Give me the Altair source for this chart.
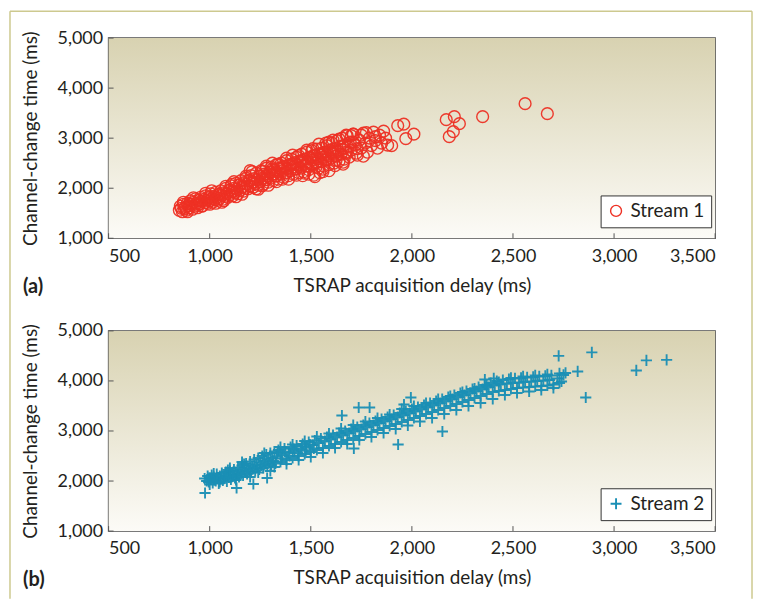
import altair as alt
import pandas as pd

# ---------------- data ----------------
s1_delay = [
    850, 855, 860, 865, 870, 875, 880, 885, 890, 895,
    900, 905, 910, 915, 920, 925, 930, 935, 940, 945,
    950, 955, 960, 965, 970, 975, 980, 985, 990, 995,
    1000, 1005, 1010, 1015, 1020, 1025, 1030, 1035, 1040, 1045,
    1050, 1055, 1060, 1065, 1070, 1075, 1080, 1085, 1090, 1095,
    1100, 1105, 1110, 1115, 1120, 1125, 1130, 1135, 1140, 1145,
    1150, 1155, 1160, 1165, 1170, 1175, 1180, 1185, 1190, 1195,
    1200, 1205, 1210, 1215, 1220, 1225, 1230, 1235, 1240, 1245,
    1250, 1255, 1260, 1265, 1270, 1275, 1280, 1285, 1290, 1295,
    1300, 1305, 1310, 1315, 1320, 1325, 1330, 1335, 1340, 1345,
    1350, 1355, 1360, 1365, 1370, 1375, 1380, 1385, 1390, 1395,
    1400, 1405, 1410, 1415, 1420, 1425, 1430, 1435, 1440, 1445,
    1450, 1455, 1460, 1465, 1470, 1475, 1480, 1485, 1490, 1495,
    1500, 1505, 1510, 1515, 1520, 1525, 1530, 1535, 1540, 1545,
    1550, 1555, 1560, 1565, 1570, 1575, 1580, 1585, 1590, 1595,
    1600, 1605, 1610, 1615, 1620, 1625, 1630, 1635, 1640, 1645,
    1650, 1655, 1660, 1665, 1670, 1675, 1680, 1685, 1690, 1695,
    1700, 1710, 1720, 1730, 1740, 1750, 1760, 1770, 1780, 1790,
    1800, 1810, 1820, 1830, 1840, 1850, 1860, 1870, 1880, 1820,
    1260, 1310, 1360, 1410, 1460, 1510, 1560, 1610, 1660, 1710,
    1280, 1330, 1380, 1430, 1480, 1530, 1580, 1630, 1680, 1730,
    1150, 1200, 1250, 1300, 1350, 1400, 1450, 1500, 1550, 1600,
    1050, 1100, 1000, 950, 900, 1120, 1170, 1220, 1270, 1320,
    1540, 1590, 1640, 1700, 1520, 1470, 1620, 1660, 1560, 1750,
    870, 890, 920, 960, 1010, 1060, 1110, 1160, 1210, 1260,
    1310, 1360, 1410, 1460, 1510, 1560, 1610, 1660, 1710, 1760,
    1030, 1080, 1130, 1180, 1230, 1280, 1330, 1380, 1430, 1480,
    1525, 1575, 1625, 1675, 1725, 1775, 1590, 1440, 1490, 1545,
    1200, 1240, 1290, 1340, 1390, 1120, 1070, 980, 940, 1000,
    1900, 1930, 1960, 1970, 2010, 2170, 2210, 2235, 2205, 2185,
    2350, 2560, 2670,
]
s1_time = [
    1560, 1640, 1600, 1530, 1680, 1590, 1620, 1560, 1700, 1650,
    1610, 1750, 1680, 1580, 1720, 1640, 1790, 1700, 1660, 1760,
    1690, 1820, 1740, 1650, 1780, 1710, 1850, 1760, 1700, 1810,
    1750, 1890, 1790, 1720, 1840, 1770, 1920, 1820, 1760, 1880,
    1800, 1950, 1860, 1780, 1910, 1840, 2000, 1890, 1820, 1960,
    1870, 2050, 1930, 1850, 2000, 1910, 2100, 1980, 1890, 2060,
    1960, 2150, 2020, 1940, 2110, 2000, 2200, 2080, 1990, 2160,
    2050, 2250, 2120, 2020, 2190, 2090, 2300, 2170, 2060, 2240,
    2130, 2350, 2200, 2080, 2280, 2170, 2400, 2240, 2120, 2320,
    2200, 2420, 2280, 2150, 2360, 2240, 2470, 2320, 2180, 2400,
    2280, 2500, 2350, 2220, 2440, 2310, 2550, 2390, 2250, 2470,
    2350, 2580, 2420, 2280, 2510, 2380, 2620, 2460, 2310, 2540,
    2400, 2680, 2500, 2330, 2580, 2440, 2720, 2530, 2370, 2620,
    2470, 2750, 2560, 2260, 2660, 2500, 2780, 2590, 2400, 2690,
    2530, 2800, 2620, 2440, 2720, 2560, 2850, 2650, 2470, 2760,
    2600, 2900, 2700, 2500, 2790, 2640, 2950, 2740, 2540, 2830,
    2680, 3000, 2780, 2580, 2870, 2720, 3050, 2820, 2620, 2920,
    2760, 3080, 2860, 2660, 2960, 2800, 3100, 2900, 2720, 3000,
    2850, 3120, 2950, 2800, 3060, 2900, 3140, 3000, 2860, 3030,
    2330, 2380, 2420, 2490, 2560, 2640, 2700, 2780, 2850, 2920,
    2170, 2250, 2300, 2390, 2450, 2520, 2580, 2650, 2700, 2790,
    2080, 2150, 2240, 2320, 2380, 2450, 2520, 2600, 2660, 2720,
    1880, 1960, 1830, 1760, 1690, 1940, 2040, 2120, 2200, 2290,
    2880, 2920, 2980, 3050, 2230, 2300, 2450, 2520, 2380, 3060,
    1720, 1530, 1810, 1640, 1950, 1720, 2080, 1880, 2330, 2050,
    2500, 2180, 2660, 2250, 2790, 2330, 2960, 2480, 3080, 2640,
    1700, 2040, 1830, 2240, 1990, 2440, 2130, 2600, 2260, 2760,
    2420, 2900, 2560, 3060, 2700, 3110, 2350, 2650, 2280, 2310,
    2350, 1980, 2060, 2480, 2180, 2130, 1750, 1900, 1610, 1680,
    2850, 3250, 3280, 2990, 3080, 3370, 3430, 3290, 3130, 3030,
    3430, 3690, 3490,
]

s2_delay = [
    975, 985, 990, 995, 1000, 1005, 1010, 1015, 1020, 1025,
    1030, 1035, 1040, 1045, 1050, 1055, 1060, 1065, 1070, 1075,
    1080, 1085, 1090, 1095, 1100, 1105, 1110, 1115, 1120, 1125,
    1130, 1135, 1140, 1145, 1150, 1155, 1160, 1165, 1170, 1175,
    1180, 1185, 1190, 1195, 1200, 1205, 1210, 1215, 1220, 1225,
    1230, 1235, 1240, 1245, 1250, 1255, 1260, 1265, 1270, 1275,
    1280, 1285, 1290, 1295, 1300, 1305, 1310, 1315, 1320, 1325,
    1330, 1340, 1350, 1360, 1370, 1380, 1390, 1400, 1410, 1420,
    1430, 1440, 1450, 1460, 1470, 1480, 1490, 1500, 1510, 1520,
    1335, 1355, 1375, 1395, 1415, 1435, 1455, 1475, 1495, 1515,
    1530, 1540, 1550, 1560, 1570, 1580, 1590, 1600, 1610, 1620,
    1630, 1640, 1650, 1660, 1670, 1680, 1690, 1700, 1710, 1720,
    1730, 1740, 1750, 1760, 1770, 1780, 1790, 1800, 1810, 1820,
    1830, 1840, 1850, 1860, 1870, 1880, 1890, 1900, 1910, 1920,
    1930, 1940, 1950, 1960, 1970, 1980, 1990, 2000, 2010, 2020,
    2030, 2040, 2050, 2060, 2070, 2080, 2090, 2100, 2110, 2120,
    2130, 2140, 2150, 2160, 2170, 2180, 2190, 2200, 2210, 2220,
    2230, 2240, 2250, 2260, 2270, 2280, 2290, 2300, 2310, 2320,
    2330, 2340, 2350, 2360, 2370, 2380, 2390, 2400, 2410, 2420,
    2430, 2440, 2450, 2460, 2470, 2480, 2490, 2500, 2510, 2520,
    2530, 2540, 2550, 2560, 2570, 2580, 2590, 2600, 2610, 2620,
    2630, 2640, 2650, 2660, 2670, 2680, 2690, 2700, 2720, 2750,
    1000, 1020, 1050, 1090, 1130, 1170, 1200, 1240, 1270, 1300,
    1320, 1350, 1380, 1410, 1440, 1470, 1500, 1530, 1560, 1590,
    1620, 1650, 1680, 1710, 1740, 1770, 1800, 1830, 1860, 1890,
    1920, 1950, 1980, 2010, 2040, 2070, 2100, 2130, 2160, 2190,
    2220, 2250, 2280, 2310, 2340, 2370, 2400, 2430, 2460, 2490,
    2520, 2550, 2580, 2610, 2640, 2670, 2700, 2730, 1100, 1160,
    2740, 2760, 2730, 977, 1133, 1216, 1284, 1654, 1737, 1791,
    1995, 1961, 2151, 1932, 1713, 2405, 2361, 2726, 2890, 2820,
    2860, 3110, 3160, 3260,
]
s2_time = [
    2050, 2000, 2100, 1980, 2060, 2030, 2120, 1960, 2080, 2020,
    2000, 2140, 2060, 1950, 2100, 2040, 2160, 2010, 2090, 2050,
    2180, 1990, 2120, 2070, 2200, 2030, 2140, 2090, 2230, 2060,
    2170, 2110, 2270, 2080, 2200, 2140, 2310, 2110, 2230, 2170,
    2350, 2140, 2260, 2200, 2390, 2170, 2300, 2240, 2430, 2200,
    2330, 2270, 2460, 2230, 2370, 2310, 2500, 2260, 2400, 2340,
    2530, 2290, 2430, 2370, 2560, 2320, 2460, 2400, 2590, 2350,
    2490, 2620, 2380, 2520, 2650, 2420, 2560, 2680, 2460, 2600,
    2710, 2500, 2640, 2740, 2540, 2680, 2780, 2580, 2720, 2810,
    2560, 2450, 2580, 2500, 2640, 2560, 2690, 2610, 2730, 2650,
    2620, 2760, 2850, 2660, 2800, 2880, 2700, 2840, 2920, 2740,
    2880, 2960, 2780, 2920, 3000, 2820, 2960, 3040, 2860, 3000,
    3080, 2900, 3040, 3120, 2940, 3080, 3160, 2980, 3120, 3200,
    3020, 3160, 3240, 3060, 3200, 3280, 3100, 3240, 3320, 3140,
    3280, 3360, 3180, 3320, 3400, 3220, 3360, 3440, 3260, 3400,
    3480, 3300, 3440, 3520, 3340, 3480, 3560, 3380, 3520, 3600,
    3420, 3560, 3640, 3460, 3600, 3680, 3500, 3640, 3720, 3540,
    3680, 3760, 3580, 3720, 3800, 3620, 3760, 3840, 3660, 3800,
    3880, 3700, 3840, 3920, 3740, 3880, 3960, 3780, 3920, 4000,
    3800, 3940, 4020, 3820, 3950, 4040, 3840, 3960, 4050, 3860,
    3970, 4060, 3870, 3980, 4070, 3880, 3990, 4080, 3890, 4000,
    4090, 3900, 4010, 4100, 3910, 4020, 4110, 3930, 4050, 4120,
    1930, 2150, 1980, 2220, 2020, 2340, 2080, 2170, 2560, 2200,
    2280, 2680, 2340, 2730, 2420, 2800, 2480, 2890, 2560, 2950,
    2660, 3050, 2740, 3120, 2820, 3190, 2880, 3260, 2960, 3330,
    3040, 3440, 3110, 3500, 3190, 3560, 3260, 3640, 3340, 3700,
    3420, 3780, 3500, 3850, 3560, 3910, 3640, 3980, 3720, 4060,
    3760, 4090, 3790, 4110, 3820, 4130, 3860, 4150, 2260, 2380,
    3990, 4160, 3960, 1760, 1860, 1940, 2060, 3310, 3470, 3470,
    3670, 3530, 2990, 2730, 2650, 4050, 4030, 4500, 4570, 4190,
    3670, 4210, 4410, 4420,
]

x_ticks = [500, 1000, 1500, 2000, 2500, 3000, 3500]
y_ticks = [1000, 2000, 3000, 4000, 5000]

# ---------------- styling ----------------
W, H = 609, 201
FONT = "Lato"
TXT = "#231f20"
FRAME = "#cdc98f"
one = pd.DataFrame({"k": [0]})

xs = alt.Scale(domain=[500, 3500], nice=False, zero=False)
ys = alt.Scale(domain=[1000, 5000], nice=False, zero=False)

grad = alt.LinearGradient(
    gradient="linear", x1=0, y1=0, x2=0, y2=1,
    stops=[alt.GradientStop(color="#d8d2b1", offset=0),
           alt.GradientStop(color="#fcfbf7", offset=1)],
)

CROSS = "M-1,0L1,0M0,-1L0,1"


def panel(delay, time, name, color, shape, sw, size, tag, with_frame):
    df = pd.DataFrame({"delay": delay, "time": time, "series": name})
    bg = alt.Chart(one).mark_rect(color=grad).encode(
        x=alt.value(0), x2=alt.value(W), y=alt.value(0), y2=alt.value(H))
    pts = alt.Chart(df).mark_point(
        shape=shape, filled=False, size=size, strokeWidth=sw, opacity=0.95
    ).encode(
        x=alt.X("delay:Q", scale=xs,
                axis=alt.Axis(values=x_ticks, format=",d",
                              title="TSRAP acquisition delay (ms)",
                              labelPadding=9, titlePadding=11)),
        y=alt.Y("time:Q", scale=ys,
                axis=alt.Axis(values=y_ticks, format=",d",
                              title="Channel-change time (ms)",
                              labelPadding=6, titlePadding=17)),
        color=alt.Color("series:N",
                        scale=alt.Scale(domain=[name], range=[color]),
                        legend=alt.Legend(
                            orient="none", legendX=494, legendY=158,
                            title=None, fillColor="white",
                            strokeColor="#333333", padding=6,
                            labelFont=FONT, labelFontSize=19,
                            labelColor=TXT, labelOffset=5,
                            symbolType=shape, symbolSize=120,
                            symbolStrokeWidth=sw, symbolOpacity=1,
                        )),
    )
    ytk = alt.Chart(pd.DataFrame({"time": y_ticks})).mark_rule(
        color="#555555", strokeWidth=1).encode(
        y=alt.Y("time:Q", scale=ys), x=alt.value(0), x2=alt.value(5))
    xtk = alt.Chart(pd.DataFrame({"delay": x_ticks})).mark_rule(
        color="#555555", strokeWidth=1).encode(
        x=alt.X("delay:Q", scale=xs), y=alt.value(H - 5), y2=alt.value(H))
    lab = alt.Chart(one).mark_text(
        text=tag, font=FONT, fontSize=20, fontWeight="bold",
        align="left", baseline="alphabetic", color=TXT
    ).encode(x=alt.value(-86), y=alt.value(H + 55))
    layers = [bg, pts, ytk, xtk, lab]
    if with_frame:
        fl = alt.Chart(one).mark_rule(color=FRAME, strokeWidth=1.5).encode(
            x=alt.value(-99), y=alt.value(-27), y2=alt.value(563))
        fr = alt.Chart(one).mark_rule(color=FRAME, strokeWidth=1.5).encode(
            x=alt.value(646), y=alt.value(-27), y2=alt.value(563))
        ft = alt.Chart(one).mark_rule(color=FRAME, strokeWidth=1.5).encode(
            x=alt.value(-99), x2=alt.value(646), y=alt.value(-27))
        layers += [fl, fr, ft]
    return alt.layer(*layers).properties(width=W, height=H)


pa = panel(s1_delay, s1_time, "Stream 1", "#ee3124", "circle", 1.4, 140, "(a)", True)
pb = panel(s2_delay, s2_time, "Stream 2", "#1a8fb5", CROSS, 1.9, 125, "(b)", False)

chart = (
    alt.vconcat(pa, pb, spacing=93, bounds="flush")
    .resolve_scale(color="independent")
    .properties(padding=0, background="white")
    .configure_view(stroke="#4d4d4d", strokeWidth=1.5)
    .configure_axis(
        labelFont=FONT, labelFontSize=18, labelColor=TXT,
        titleFont=FONT, titleFontSize=19, titleFontWeight="normal",
        titleColor=TXT, domain=False, ticks=False, grid=False,
    )
)

chart.save("out.html", embed_options={"renderer": "svg", "actions": False})
